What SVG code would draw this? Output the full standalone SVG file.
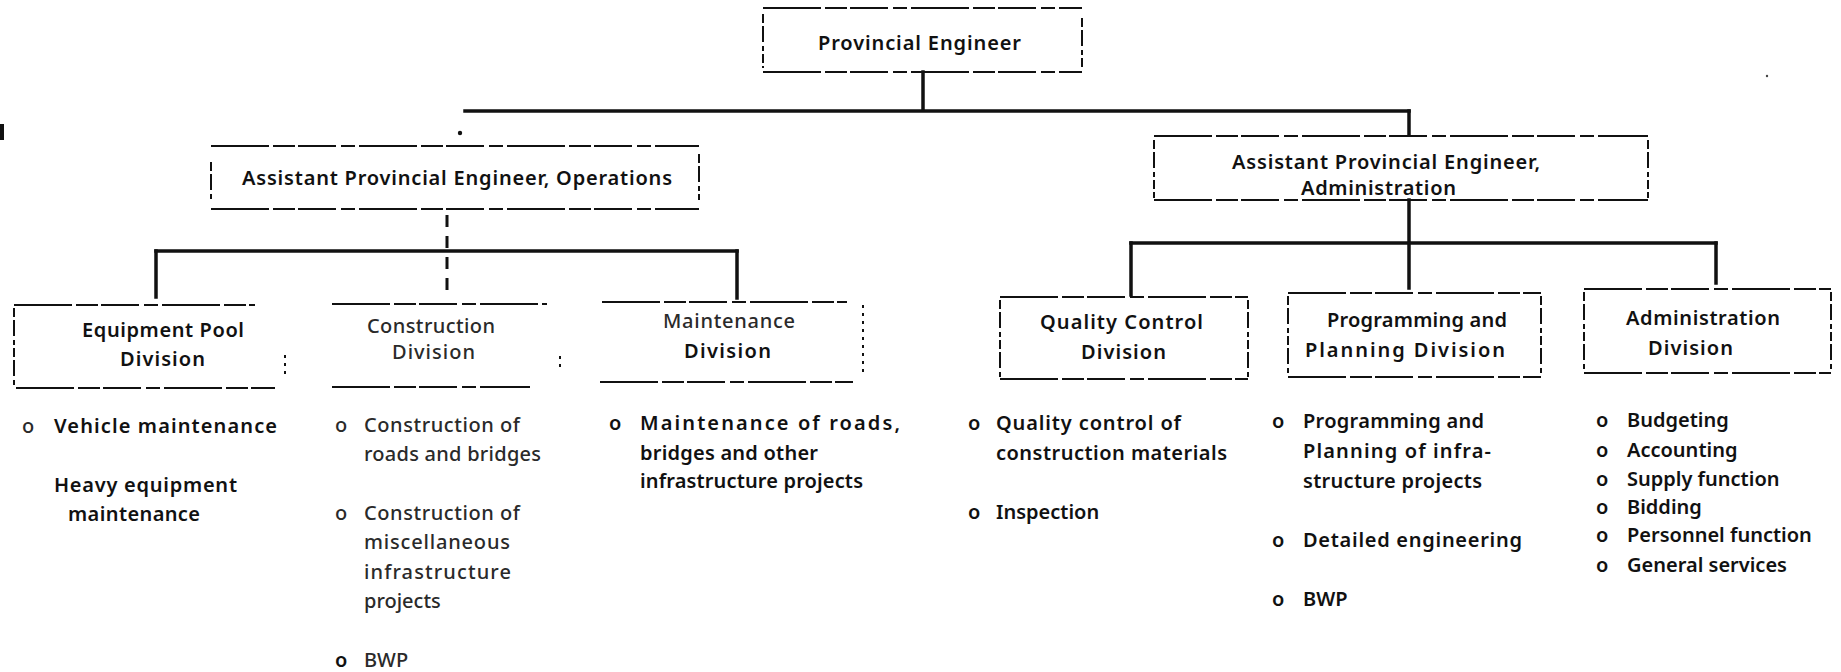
<svg xmlns="http://www.w3.org/2000/svg" width="1841" height="672" viewBox="0 0 1841 672">
  <style>
    text { font-family: "Noto Sans", "DejaVu Sans", sans-serif; font-size: 20px; font-weight: 600; fill: #111; }
    .faint { font-weight: 500; fill: #2a2a2a; }
    .edge { fill: none; stroke: #111; stroke-width: 2; stroke-dasharray: 58 4 22 3 38 5 14 4; }
    .side { fill: none; stroke: #111; stroke-width: 2; stroke-dasharray: 9 3 16 4 5 3; }
    .dots { fill: none; stroke: #111; stroke-width: 2; stroke-dasharray: 3 5; }
    .wire { fill: none; stroke: #111; stroke-width: 3.5; stroke-linecap: square; }
    .dash { fill: none; stroke: #111; stroke-width: 3; stroke-dasharray: 12 9; }
  </style>

  <rect width="1841" height="672" fill="#fff"/>

  <!-- connectors -->
  <g id="connectors">
    <line class="wire" x1="923" y1="72" x2="923" y2="110"/>
    <line class="wire" x1="465" y1="111" x2="1409" y2="111"/>
    <line class="wire" x1="1409" y1="111" x2="1409" y2="135"/>
    <circle cx="460" cy="133" r="2.2" fill="#111"/>

    <line class="dash" x1="447" y1="215" x2="447" y2="290"/>
    <line class="wire" x1="156" y1="251" x2="737" y2="251"/>
    <line class="wire" x1="156" y1="251" x2="156" y2="297"/>
    <line class="wire" x1="737" y1="251" x2="737" y2="298"/>

    <line class="wire" x1="1409" y1="200" x2="1409" y2="288"/>
    <line class="wire" x1="1131" y1="243" x2="1716" y2="243"/>
    <line class="wire" x1="1131" y1="243" x2="1131" y2="295"/>
    <line class="wire" x1="1716" y1="243" x2="1716" y2="283"/>
  </g>

  <g id="provincial-engineer">
    <line class="edge" x1="763" y1="8" x2="1082" y2="8"/>
    <line class="edge" x1="763" y1="72" x2="1082" y2="72"/>
    <line class="side" x1="763" y1="14" x2="763" y2="68"/>
    <line class="side" x1="1082" y1="18" x2="1082" y2="70"/>
    <text x="818" y="50" textLength="203">Provincial Engineer</text>
  </g>

  <g id="ape-operations">
    <line class="edge" x1="211" y1="146" x2="699" y2="146"/>
    <line class="edge" x1="211" y1="209" x2="699" y2="209"/>
    <line class="side" x1="211" y1="162" x2="211" y2="200"/>
    <line class="side" x1="699" y1="154" x2="699" y2="200"/>
    <text x="242" y="185" textLength="430">Assistant Provincial Engineer, Operations</text>
  </g>

  <g id="ape-administration">
    <line class="edge" x1="1154" y1="136" x2="1648" y2="136"/>
    <line class="edge" x1="1154" y1="200" x2="1648" y2="200"/>
    <line class="side" x1="1154" y1="140" x2="1154" y2="198"/>
    <line class="side" x1="1648" y1="140" x2="1648" y2="198"/>
    <text x="1232" y="169" textLength="308">Assistant Provincial Engineer,</text>
    <text x="1301" y="195" textLength="155">Administration</text>
  </g>

  <g id="equipment-pool">
    <line class="edge" x1="14" y1="305" x2="255" y2="305"/>
    <line class="edge" x1="16" y1="388" x2="275" y2="388"/>
    <line class="side" x1="14" y1="308" x2="14" y2="385"/>
    <line class="dots" x1="285" y1="355" x2="285" y2="378"/>
    <text x="82" y="337" textLength="162">Equipment Pool</text>
    <text x="120" y="366" textLength="85">Division</text>
    <text class="faint" x="22" y="433">o</text>
    <text x="54" y="433" textLength="223">Vehicle maintenance</text>
    <text x="54" y="492" textLength="183">Heavy equipment</text>
    <text x="68" y="521" textLength="132">maintenance</text>
  </g>

  <g id="construction">
    <line class="edge" x1="332" y1="304" x2="547" y2="304"/>
    <line class="edge" x1="332" y1="387" x2="530" y2="387"/>
    <line class="dots" x1="560" y1="356" x2="560" y2="369"/>
    <text class="faint" x="367" y="333" textLength="128">Construction</text>
    <text class="faint" x="392" y="359" textLength="83">Division</text>
    <text class="faint" x="335" y="432">o</text>
    <text class="faint" x="364" y="432" textLength="156">Construction of</text>
    <text class="faint" x="364" y="461" textLength="177">roads and bridges</text>
    <text class="faint" x="335" y="520">o</text>
    <text class="faint" x="364" y="520" textLength="156">Construction of</text>
    <text class="faint" x="364" y="549" textLength="146">miscellaneous</text>
    <text class="faint" x="364" y="579" textLength="147">infrastructure</text>
    <text class="faint" x="364" y="608">projects</text>
    <text x="335" y="667">o</text>
    <text class="faint" x="364" y="667">BWP</text>
  </g>

  <g id="maintenance">
    <line class="edge" x1="602" y1="302" x2="847" y2="302"/>
    <line class="edge" x1="600" y1="382" x2="853" y2="382"/>
    <line class="dots" x1="863" y1="305" x2="863" y2="372"/>
    <text class="faint" x="663" y="328" textLength="132">Maintenance</text>
    <text x="684" y="358" textLength="87">Division</text>
    <text x="609" y="430">o</text>
    <text x="640" y="430" textLength="260">Maintenance of roads,</text>
    <text x="640" y="460" textLength="178">bridges and other</text>
    <text x="640" y="488" textLength="223">infrastructure projects</text>
  </g>

  <g id="quality-control">
    <line class="edge" x1="1000" y1="297" x2="1248" y2="297"/>
    <line class="edge" x1="1000" y1="379" x2="1248" y2="379"/>
    <line class="side" x1="1000" y1="300" x2="1000" y2="377"/>
    <line class="side" x1="1248" y1="300" x2="1248" y2="377"/>
    <text x="1040" y="329" textLength="163">Quality Control</text>
    <text x="1081" y="359" textLength="85">Division</text>
    <text x="968" y="430">o</text>
    <text x="996" y="430" textLength="185">Quality control of</text>
    <text x="996" y="460" textLength="231">construction materials</text>
    <text x="968" y="519">o</text>
    <text x="996" y="519">Inspection</text>
  </g>

  <g id="programming-planning">
    <line class="edge" x1="1288" y1="293" x2="1541" y2="293"/>
    <line class="edge" x1="1288" y1="377" x2="1541" y2="377"/>
    <line class="side" x1="1288" y1="296" x2="1288" y2="375"/>
    <line class="side" x1="1541" y1="296" x2="1541" y2="375"/>
    <text x="1327" y="327" textLength="180">Programming and</text>
    <text x="1305" y="357" textLength="200">Planning Division</text>
    <text x="1272" y="428">o</text>
    <text x="1303" y="428" textLength="181">Programming and</text>
    <text x="1303" y="458" textLength="188">Planning of infra-</text>
    <text x="1303" y="488" textLength="179">structure projects</text>
    <text x="1272" y="547">o</text>
    <text x="1303" y="547" textLength="219">Detailed engineering</text>
    <text x="1272" y="606">o</text>
    <text x="1303" y="606">BWP</text>
  </g>

  <g id="administration">
    <line class="edge" x1="1584" y1="289" x2="1831" y2="289"/>
    <line class="edge" x1="1584" y1="373" x2="1831" y2="373"/>
    <line class="side" x1="1584" y1="292" x2="1584" y2="371"/>
    <line class="side" x1="1831" y1="292" x2="1831" y2="371"/>
    <text x="1626" y="325" textLength="154">Administration</text>
    <text x="1648" y="355" textLength="85">Division</text>
    <text x="1596" y="427">o</text>
    <text x="1627" y="427">Budgeting</text>
    <text x="1596" y="457">o</text>
    <text x="1627" y="457">Accounting</text>
    <text x="1596" y="486">o</text>
    <text x="1627" y="486">Supply function</text>
    <text x="1596" y="514">o</text>
    <text x="1627" y="514">Bidding</text>
    <text x="1596" y="542">o</text>
    <text x="1627" y="542">Personnel function</text>
    <text x="1596" y="572">o</text>
    <text x="1627" y="572">General services</text>
  </g>

  <!-- specks along the margin -->
  <rect x="0" y="124" width="4" height="16" fill="#111"/>
  <circle cx="1767" cy="76" r="1.2" fill="#444"/>
</svg>
